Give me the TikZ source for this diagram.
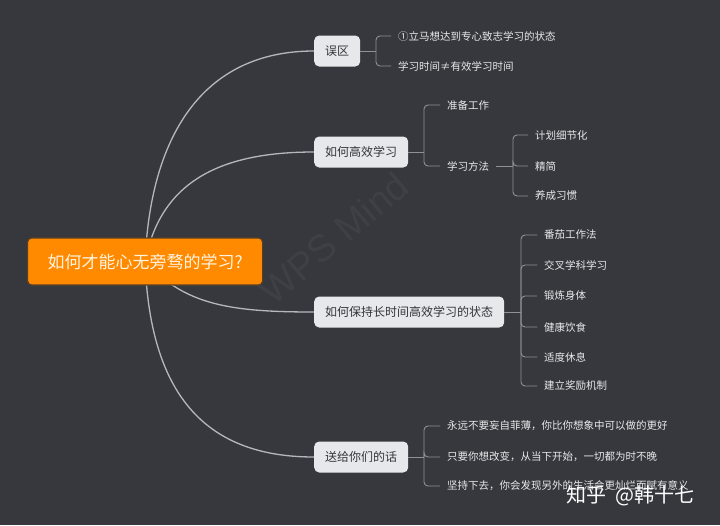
\documentclass[tikz,border=0pt]{standalone}
\usepackage{fontspec}
\setmainfont{Noto Sans CJK SC}
\newfontfamily\latinsans{Liberation Sans}
\definecolor{bgcol}{HTML}{36383E}
\definecolor{rootorange}{HTML}{FF8A00}
\definecolor{roottext}{HTML}{FFF4E2}
\definecolor{branchfill}{HTML}{E6E8EB}
\definecolor{branchtext}{HTML}{333538}
\definecolor{leaftext}{HTML}{E8E9EA}
\definecolor{curvecol}{HTML}{B4B8BE}
\definecolor{bracketcol}{HTML}{8E9298}
\pgfdeclarelayer{bglayer}
\pgfsetlayers{bglayer,main}
\begin{document}
\begin{tikzpicture}[x=1pt,y=-1pt,
  rootbox/.style={fill=rootorange, draw=black!45!rootorange!40!bgcol, line width=1.2pt, rounded corners=4pt, text=roottext,
    font=\fontsize{17}{20}\selectfont, minimum height=47pt, minimum width=235pt, anchor=west},
  branchbox/.style={fill=branchfill, rounded corners=5pt, text=branchtext,
    font=\fontsize{12}{14}\selectfont, minimum height=31pt, inner xsep=11pt, anchor=west},
  leaf/.style={text=leaftext, font=\fontsize{10.5}{12}\selectfont, inner xsep=7pt, inner ysep=2pt, anchor=west},
  curve/.style={draw=curvecol, line width=1.3pt},
  bracket/.style={draw=bracketcol, line width=0.9pt, rounded corners=4pt}]
\begin{pgfonlayer}{bglayer}
\fill[bgcol] (0,0) rectangle (720,525);
\end{pgfonlayer}
\useasboundingbox (0,0) rectangle (720,525);

% faint watermark
\node[text=white, opacity=0.045, rotate=40, font=\latinsans\fontsize{38}{44}\selectfont] (wps) at (334,238) {WPS Mind};

% root and branches
\node[rootbox] (root) at (27,261.5) {如何才能心无旁骛的学习?};
\node[branchbox] (b1) at (314,51) {误区};
\node[branchbox] (b2) at (314,152) {如何高效学习};
\node[branchbox] (b3) at (314,312) {如何保持长时间高效学习的状态};
\node[branchbox] (b4) at (314,457) {送给你们的话};

\begin{pgfonlayer}{bglayer}
\draw[curve] (root.center) .. controls (150,140) and (200,51) .. (b1.west);
\draw[curve] (root.center) .. controls (160,185) and (215,152) .. (b2.west);
\draw[curve] (root.center) .. controls (185,305) and (230,312) .. (b3.west);
\draw[curve] (root.center) .. controls (150,400) and (210,457) .. (b4.west);
\end{pgfonlayer}

% branch 1
\node[leaf] (l11) at (391,36) {①立马想达到专心致志学习的状态};
\node[leaf] (l12) at (391,66) {学习时间≠有效学习时间};
\coordinate (k1) at (376,51);
\draw[bracket] (b1.east) -- (k1);
\draw[bracket] (k1) |- (l11.west);
\draw[bracket] (k1) |- (l12.west);

% branch 2
\node[leaf] (l21) at (440,105) {准备工作};
\node[leaf] (l22) at (440,166) {学习方法};
\coordinate (k2) at (424,152);
\draw[bracket] (b2.east) -- (k2);
\draw[bracket] (k2) |- (l21.west);
\draw[bracket] (k2) |- (l22.west);
\node[leaf] (l221) at (528,135) {计划细节化};
\node[leaf] (l222) at (528,166) {精简};
\node[leaf] (l223) at (528,196) {养成习惯};
\coordinate (k22) at (513,166);
\draw[bracket] (l22.east) -- (k22);
\draw[bracket] (k22) |- (l221.west);
\draw[bracket] (k22) |- (l222.west);
\draw[bracket] (k22) |- (l223.west);

% branch 3
\node[leaf] (l31) at (537,235) {番茄工作法};
\node[leaf] (l32) at (537,265) {交叉学科学习};
\node[leaf] (l33) at (537,296) {锻炼身体};
\node[leaf] (l34) at (537,327) {健康饮食};
\node[leaf] (l35) at (537,357) {适度休息};
\node[leaf] (l36) at (537,386) {建立奖励机制};
\coordinate (k3) at (521,312);
\draw[bracket] (b3.east) -- (k3);
\foreach \n in {l31,l32,l33,l34,l35,l36} \draw[bracket] (k3) |- (\n.west);

% branch 4
\node[leaf] (l41) at (440,426) {永远不要妄自菲薄，你比你想象中可以做的更好};
\node[leaf] (l42) at (440,457) {只要你想改变，从当下开始，一切都为时不晚};
\node[leaf] (l43) at (440,486) {坚持下去，你会发现另外的生活会更灿烂而赋有意义};
\coordinate (k4) at (424,457);
\draw[bracket] (b4.east) -- (k4);
\foreach \n in {l41,l42,l43} \draw[bracket] (k4) |- (\n.west);

% site watermark
\node[text=white, inner sep=0pt, anchor=west, font=\fontsize{20}{24}\selectfont] (zh) at (566,496) {知乎\hspace{9pt}@韩十七};
\end{tikzpicture}
\end{document}
